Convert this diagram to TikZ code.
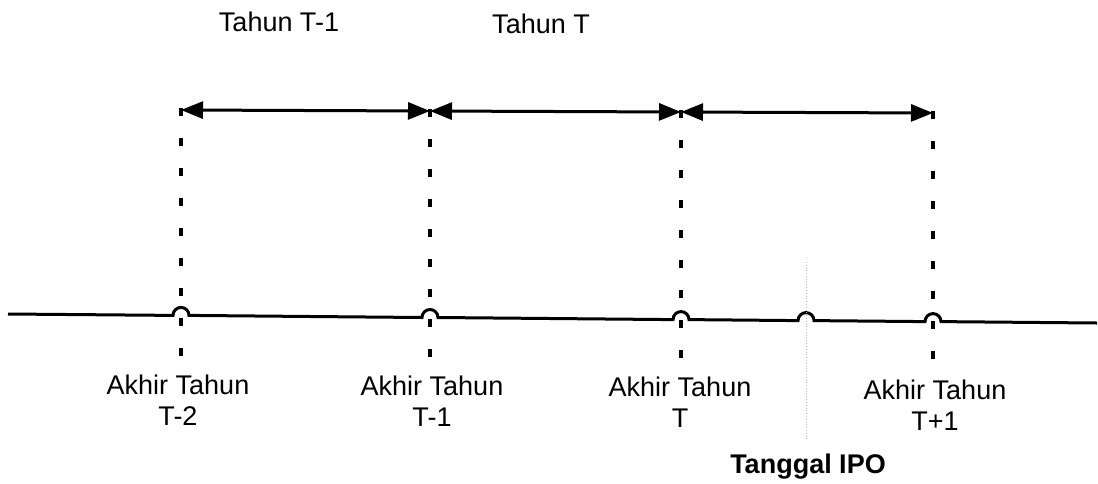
\documentclass[tikz,border=0pt]{standalone}
\usepackage{fontspec}
\setmainfont{Liberation Sans}
\usetikzlibrary{arrows.meta}
\begin{document}
\begin{tikzpicture}[x=1pt,y=-1pt,
  axis/.style={line width=3pt},
  tick/.style={line width=4pt, dash pattern=on 8pt off 22pt},
  span/.style={line width=3pt, {Triangle[length=22pt,width=17pt]}-{Triangle[length=22pt,width=17pt]}},
  lbl/.style={font=\fontsize{27}{31}\selectfont, align=center, inner sep=0pt},
  ipoline/.style={line width=0.8pt, gray!60, dotted}]
\useasboundingbox (0,0) rectangle (1098,483);

% year-end marks on the time axis (axis sags slightly to the right)
\coordinate (L) at (8,314);
\coordinate (R) at (1097,323);
\coordinate (m0) at (181,315.4);
\coordinate (m1) at (430,317.5);
\coordinate (m2) at (681,319.6);
\coordinate (ipo) at (806,320.6);
\coordinate (m3) at (933,321.6);

% time axis with small hops at each mark
\draw[axis] (L) -- ++(165,1.4) arc[start angle=180,end angle=360,radius=8]
  -- ++(233,2.1) arc[start angle=180,end angle=360,radius=8]
  -- ++(235,2.1) arc[start angle=180,end angle=360,radius=8]
  -- ++(109,1) arc[start angle=180,end angle=360,radius=8]
  -- ++(111,1) arc[start angle=180,end angle=360,radius=8]
  -- (R);

% dashed verticals through the year ends
\coordinate (t0) at (181,108);
\coordinate (t1) at (430,109);
\coordinate (t2) at (681,110);
\coordinate (t3) at (933,111);
\coordinate (b0) at (181,360);
\coordinate (b1) at (430,360);
\coordinate (b2) at (681,360);
\coordinate (b3) at (933,360);
\foreach \i in {0,1,2,3} \draw[tick] (t\i) -- (b\i);

% faint marker of the listing date
\coordinate (ipotop) at (806,262);
\coordinate (ipobot) at (806,440);
\draw[ipoline] (ipotop) -- (ipobot);

% one-year spans
\coordinate (a0) at (181,110);
\coordinate (a1) at (430,111);
\coordinate (a2) at (681,112);
\coordinate (a3) at (933,113);
\draw[span] (a0) -- (a1);
\draw[span] (a1) -- (a2);
\draw[span] (a2) -- (a3);

% labels
\node[lbl] (y1) at (279,22) {Tahun T-1};
\node[lbl] (y0) at (541,24) {Tahun T};
\node[lbl] (e0) at (178,400) {Akhir Tahun\\T-2};
\node[lbl] (e1) at (432,401) {Akhir Tahun\\T-1};
\node[lbl] (e2) at (680,402) {Akhir Tahun\\T};
\node[lbl] (e3) at (935,405) {Akhir Tahun\\T+1};
\node[lbl, font=\fontsize{27}{31}\selectfont\bfseries] (ipolbl) at (808,467) {Tanggal IPO};
\end{tikzpicture}
\end{document}
